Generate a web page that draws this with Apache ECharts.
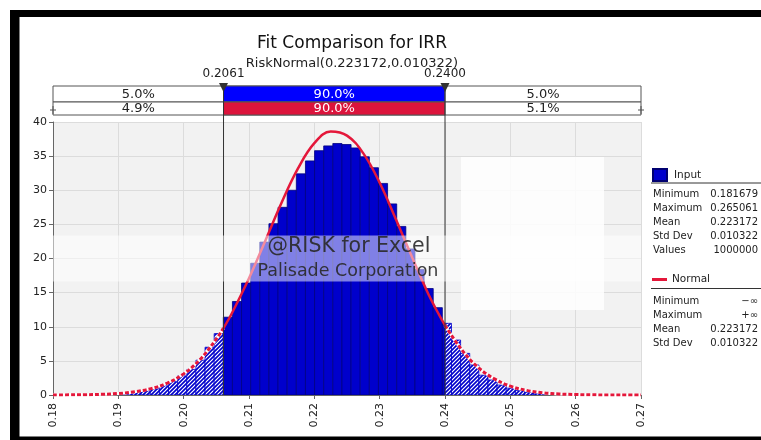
<!DOCTYPE html>
<html>
<head>
<meta charset="utf-8">
<title>Fit Comparison for IRR</title>
<script src="https://cdn.jsdelivr.net/npm/echarts@6/dist/echarts.min.js"></script>
<style>
  html, body { margin: 0; padding: 0; background: #fff; }
  #chart { width: 761px; height: 440px; }
</style>
</head>
<body>
<div id="chart"></div>
<script>
// histogram of the simulated IRR (density), bins
const binStart = 0.18092;
const binWidth = 0.001397;
const inputDensity = [
  0.01, 0.02, 0.03, 0.05, 0.08, 0.12, 0.18, 0.28, 0.42, 0.6, 0.9, 1.35, 1.95, 2.8, 3.75, 5.1, 7.0, 9.0,
  11.4, 13.7, 16.4, 19.3, 22.4, 25.1, 27.5, 30.0, 32.4, 34.3, 35.8, 36.5, 36.85, 36.7, 36.2, 34.9, 33.3,
  31.0, 28.0, 24.7, 21.4, 18.4, 15.6, 12.8, 10.5,
  8.05, 6.1, 4.4, 2.9, 2.2, 1.45, 1.0, 0.65, 0.42, 0.27, 0.17, 0.1, 0.06, 0.04, 0.02, 0.01, 0.01, 0.005
];

// fitted normal curve
const normalX = [0.18, 0.1825, 0.185, 0.1875, 0.19, 0.1925, 0.195, 0.1975, 0.2, 0.2025, 0.205, 0.2061,
  0.2075, 0.21, 0.2125, 0.215, 0.2175, 0.22, 0.2225, 0.225, 0.2275, 0.23, 0.2325, 0.235, 0.2375, 0.24,
  0.2425, 0.245, 0.2475, 0.25, 0.2525, 0.255, 0.2575, 0.26, 0.2625, 0.265, 0.2675, 0.27];
const normalY = [0.01, 0.02, 0.04, 0.1, 0.22, 0.47, 0.93, 1.75, 3.1, 5.2, 8.2, 9.8,
  12.2, 17.1, 22.6, 28.2, 33.2, 36.9, 38.6, 38.0, 35.4, 31.1, 25.7, 20.1, 14.7, 10.2,
  6.7, 4.1, 2.4, 1.3, 0.68, 0.33, 0.15, 0.07, 0.03, 0.01, 0.01, 0.0];

// delimiters and percentages
const leftCut = 0.2061;
const rightCut = 0.24;
const cutLabels = ['0.2061', '0.2400'];
const inputPct = ['5.0%', '90.0%', '5.0%'];
const normalPct = ['4.9%', '90.0%', '5.1%'];

// axes
const xMin = 0.18, xMax = 0.27, xStep = 0.01;
const yMin = 0, yMax = 40, yStep = 5;

// stats panel
const inputStats = [['Minimum', '0.181679'], ['Maximum', '0.265061'], ['Mean', '0.223172'],
  ['Std Dev', '0.010322'], ['Values', '1000000']];
const normalStats = [['Minimum', '\u2212\u221e'], ['Maximum', '+\u221e'], ['Mean', '0.223172'],
  ['Std Dev', '0.010322']];

const FONT = '"DejaVu Sans", Verdana, sans-serif';
const BLUE = '#0000cc';
const RED = '#e4173a';

// blue with white diagonal stripes for the tails
function makeHatch() {
  const c = document.createElement('canvas');
  c.width = 4; c.height = 4;
  const ctx = c.getContext('2d');
  ctx.fillStyle = BLUE;
  ctx.fillRect(0, 0, 4, 4);
  ctx.strokeStyle = '#ffffff';
  ctx.lineWidth = 1.2;
  ctx.beginPath();
  ctx.moveTo(0, 4); ctx.lineTo(4, 0);
  ctx.moveTo(-1, 1); ctx.lineTo(1, -1);
  ctx.moveTo(3, 5); ctx.lineTo(5, 3);
  ctx.stroke();
  return c;
}
const hatchFill = { image: makeHatch(), repeat: 'repeat' };

const bins = inputDensity.map((h, i) => [binStart + i * binWidth, binStart + (i + 1) * binWidth, h]);

const curve = normalX.map((x, i) => [x, normalY[i]]);
const curveLeft = curve.filter(p => p[0] <= leftCut);
const curveMid = curve.filter(p => p[0] >= leftCut && p[0] <= rightCut);
const curveRight = curve.filter(p => p[0] >= rightCut);

function renderBin(params, api) {
  const x0 = api.value(0), x1 = api.value(1), h = api.value(2);
  const pieces = [
    [x0, Math.min(x1, leftCut), true],
    [Math.max(x0, leftCut), Math.min(x1, rightCut), false],
    [Math.max(x0, rightCut), x1, true]
  ];
  const children = [];
  pieces.forEach(([a, b, tail]) => {
    if (b <= a) return;
    const p0 = api.coord([a, h]);
    const p1 = api.coord([b, 0]);
    children.push({
      type: 'rect',
      shape: { x: p0[0], y: p0[1], width: p1[0] - p0[0], height: p1[1] - p0[1] },
      style: tail
        ? { fill: hatchFill, stroke: BLUE, lineWidth: 0.8 }
        : { fill: BLUE, stroke: '#000080', lineWidth: 0.8 }
    });
  });
  return { type: 'group', children: children };
}

const chart = echarts.init(document.getElementById('chart'));

const curveLine = { type: 'line', smooth: 0.4, showSymbol: false, silent: true, z: 4 };

chart.setOption({
  animation: false,
  title: {
    text: 'Fit Comparison for IRR',
    subtext: 'RiskNormal(0.223172,0.010322)',
    left: 347, top: 30, textAlign: 'center', itemGap: 5,
    textStyle: { fontFamily: FONT, fontSize: 17, fontWeight: 'normal', color: '#111' },
    subtextStyle: { fontFamily: FONT, fontSize: 13, color: '#222' }
  },
  legend: [
    {
      data: ['Input'], left: 652, top: 168, padding: 0, icon: 'rect',
      itemWidth: 14, itemHeight: 12, selectedMode: false,
      textStyle: { fontFamily: FONT, fontSize: 10.5, color: '#222', padding: [0, 0, 0, 2] }
    },
    {
      data: ['Normal'], left: 652, top: 274, padding: 0, icon: 'rect',
      itemWidth: 15, itemHeight: 3, selectedMode: false,
      textStyle: { fontFamily: FONT, fontSize: 10.5, color: '#222' }
    }
  ],
  grid: {
    left: 53, right: 120, top: 122, bottom: 45,
    show: true, backgroundColor: '#f2f2f2', borderWidth: 0
  },
  xAxis: {
    type: 'value', min: xMin, max: xMax, interval: xStep,
    axisLine: { show: true, lineStyle: { color: '#666' } },
    axisTick: { show: true, length: 4, lineStyle: { color: '#666' } },
    axisLabel: {
      rotate: 90, margin: 8, fontFamily: FONT, fontSize: 11, color: '#222',
      formatter: v => v.toFixed(2)
    },
    splitLine: { show: true, lineStyle: { color: '#dcdcdc' } }
  },
  yAxis: {
    type: 'value', min: yMin, max: yMax, interval: yStep,
    axisLine: { show: true, lineStyle: { color: '#666' } },
    axisTick: { show: true, length: 4, lineStyle: { color: '#666' } },
    axisLabel: { margin: 6, fontFamily: FONT, fontSize: 11, color: '#222' },
    splitLine: { show: true, lineStyle: { color: '#dcdcdc' } }
  },
  series: [
    {
      name: 'Input', type: 'custom', renderItem: renderBin, data: bins,
      encode: { x: [0, 1], y: 2 }, clip: true, silent: true, z: 2,
      itemStyle: { color: BLUE, borderColor: '#000070', borderWidth: 1 }
    },
    // white under the dashed tails
    Object.assign({}, curveLine, { name: 'u1', data: curveLeft, lineStyle: { color: '#fff', width: 3 } }),
    Object.assign({}, curveLine, { name: 'u2', data: curveRight, lineStyle: { color: '#fff', width: 3 } }),
    Object.assign({}, curveLine, { name: 't1', data: curveLeft, z: 5, lineStyle: { color: RED, width: 3, type: [4, 2] } }),
    Object.assign({}, curveLine, { name: 't2', data: curveRight, z: 5, lineStyle: { color: RED, width: 3, type: [4, 2] } }),
    Object.assign({}, curveLine, {
      name: 'Normal', data: curveMid, z: 5,
      itemStyle: { color: RED },
      lineStyle: { color: RED, width: 2.5 }
    })
  ]
});

// overlays: delimiter lines and bars, watermark, stats panel, frame
function px(x, y) { return chart.convertToPixel({ gridIndex: 0 }, [x, y]); }
const pL = px(xMin, yMax), pR = px(xMax, yMin);
const xa = px(leftCut, 0)[0], xb = px(rightCut, 0)[0];
const plotLeft = pL[0], plotRight = pR[0], plotTop = pL[1], plotBottom = pR[1];
const midX = (plotLeft + plotRight) / 2;

function txt(text, x, y, size, color, align, z) {
  return {
    type: 'text', z: z || 6,
    style: {
      text: text, x: x, y: y, font: size + 'px ' + FONT, fill: color,
      textAlign: align || 'center', textVerticalAlign: 'middle', verticalAlign: 'middle'
    }
  };
}
function rect(x, y, w, h, fill, stroke, z) {
  return {
    type: 'rect', z: z || 6, shape: { x: x, y: y, width: w, height: h },
    style: { fill: fill, stroke: stroke || null, lineWidth: 1 }
  };
}
function line(x1, y1, x2, y2, color, z) {
  return {
    type: 'line', z: z || 6, shape: { x1: x1, y1: y1, x2: x2, y2: y2 },
    style: { stroke: color, lineWidth: 1 }
  };
}

const g = [];
// white patch on the plot
g.push(rect(461, 157, 143, 153, 'rgba(255,255,255,0.85)', null, 1));

// two percentage rows
const r1 = 86, r2 = 102, r3 = 115;
g.push(rect(plotLeft, r1, plotRight - plotLeft, r2 - r1, '#fff', '#555'));
g.push(rect(xa, r1, xb - xa, r2 - r1, '#0000ff', '#555'));
g.push(rect(plotLeft, r2, plotRight - plotLeft, r3 - r2, '#fff', '#555'));
g.push(rect(xa, r2, xb - xa, r3 - r2, '#dc143c', '#555'));
const segX = [(plotLeft + xa) / 2, (xa + xb) / 2, (xb + plotRight) / 2];
inputPct.forEach((t, i) => g.push(txt(t, segX[i], (r1 + r2) / 2 + 0.5, 13, i === 1 ? '#fff' : '#222', 'center', 7)));
normalPct.forEach((t, i) => g.push(txt(t, segX[i], (r2 + r3) / 2 + 0.5, 13, i === 1 ? '#fff' : '#222', 'center', 7)));
// end markers on the lower row
[plotLeft, plotRight].forEach(x => {
  g.push(line(x - 3, 110, x + 3, 110, '#555', 7));
  g.push(line(x, 106, x, 114, '#555', 7));
});
// delimiter lines from the rows down to the axis, triangles and values
[xa, xb].forEach((x, i) => {
  g.push(line(x, 84, x, plotBottom, '#333', 7));
  g.push({
    type: 'polygon', z: 8,
    shape: { points: [[x - 4.5, 83], [x + 4.5, 83], [x, 92]] },
    style: { fill: '#333' }
  });
  g.push(txt(cutLabels[i], x, 74, 12, '#222'));
});

// watermark band
g.push(rect(plotLeft, 235.5, plotRight - plotLeft, 46, 'rgba(255,255,255,0.5)', null, 20));
g.push(txt('@RISK for Excel', midX + 2, 247, 20.5, 'rgba(40,40,40,0.9)', 'center', 21));
g.push(txt('Palisade Corporation', midX + 1, 271, 17.5, 'rgba(40,40,40,0.9)', 'center', 21));

// stats panel
g.push(line(651, 183, 761, 183, '#333'));
inputStats.forEach((r, i) => {
  const y = 194.5 + i * 14;
  g.push(txt(r[0], 653, y, 10, '#222', 'left'));
  g.push(txt(r[1], 758, y, 10, '#222', 'right'));
});
g.push(line(651, 288.5, 761, 288.5, '#333'));
normalStats.forEach((r, i) => {
  const y = 301.7 + i * 14;
  g.push(txt(r[0], 653, y, 10, '#222', 'left'));
  g.push(txt(r[1], 758, y, 10, '#222', 'right'));
});

// black frame of the screenshot
g.push(rect(10, 10, 9.5, 430, '#000', null, 30));
g.push(rect(10, 10, 751, 7, '#000', null, 30));
g.push(rect(10, 436.5, 751, 3.5, '#000', null, 30));

chart.setOption({ graphic: g });
</script>
</body>
</html>
